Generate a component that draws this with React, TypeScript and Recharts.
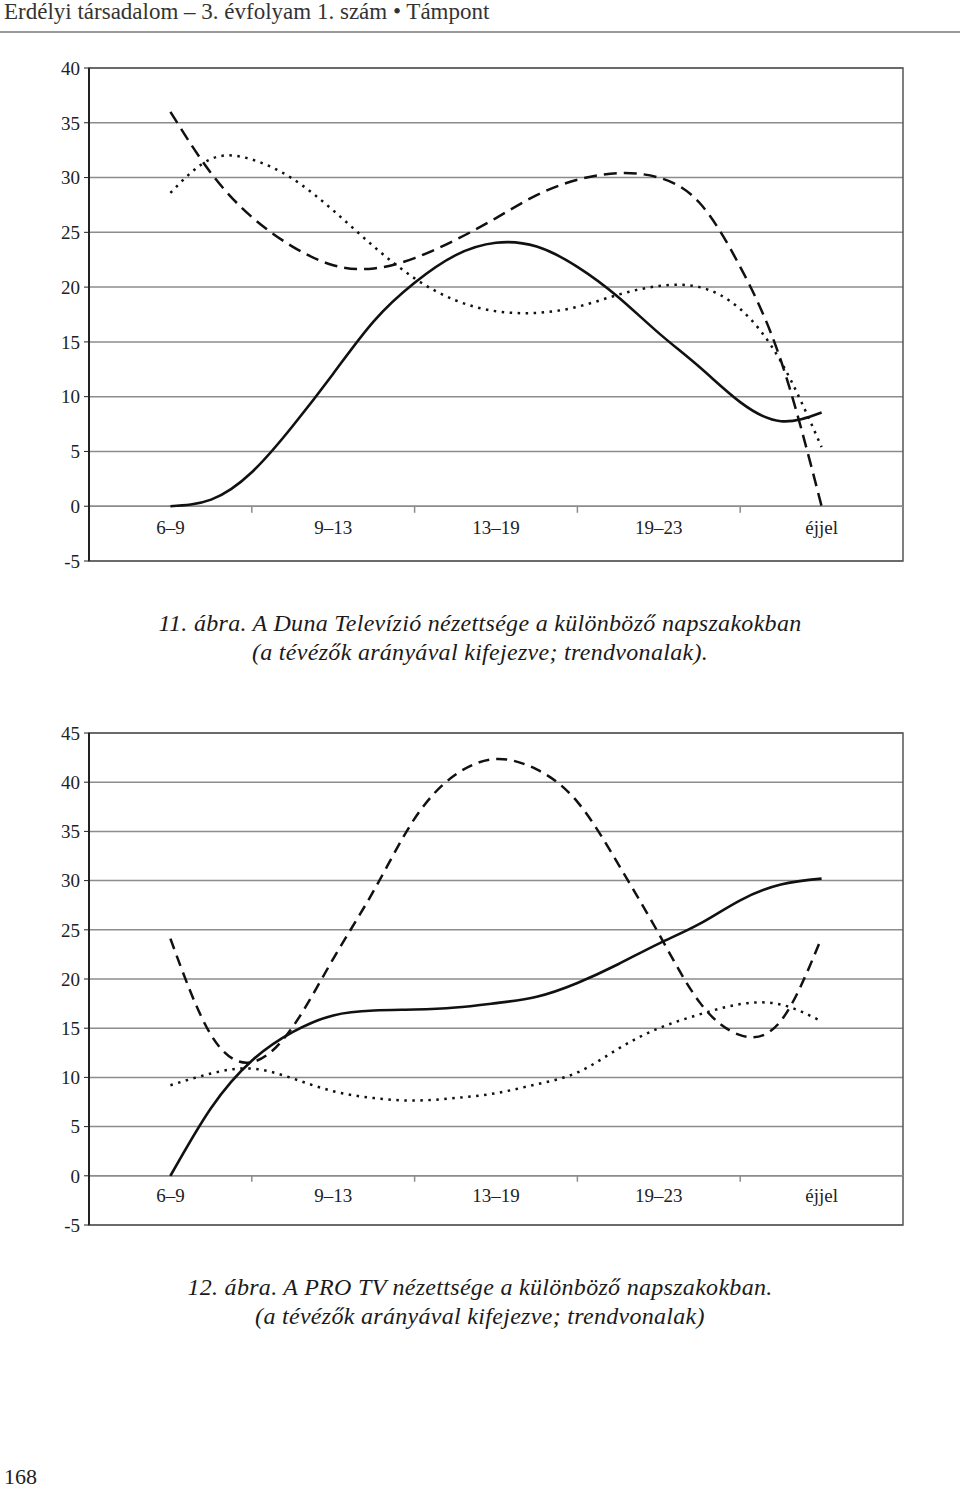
import {
  CartesianGrid, Line, LineChart, ReferenceArea, ReferenceDot, ReferenceLine, XAxis, YAxis,
} from "recharts";

const SERIF = "'Liberation Serif', 'DejaVu Serif', serif";
const INK = "#111";
const GRID = "#8c8c8c";

const CATEGORIES = ["6–9", "9–13", "13–19", "19–23", "éjjel"];

// trendlines every quarter of a category (0 = 6–9 … 4 = éjjel)
const SAMPLE_X = [0, 0.25, 0.5, 0.75, 1, 1.25, 1.5, 1.75, 2, 2.25, 2.5, 2.75, 3, 3.25, 3.5, 3.75, 4];

// 11. ábra – Duna Televízió
const DUNA_TICKS = [-5, 0, 5, 10, 15, 20, 25, 30, 35, 40];
const DUNA_SOLID = [0, 0.6, 3.1, 7.3, 12.1, 16.9, 20.4, 22.9, 24.05, 23.7, 21.85, 19.1, 15.8, 12.7, 9.5, 7.76, 8.55];
const DUNA_DASHED = [36, 30.4, 26.4, 23.7, 22, 21.7, 22.65, 24.3, 26.3, 28.4, 29.8, 30.4, 30, 27.7, 21.85, 13.3, 0];
const DUNA_DOTTED = [28.6, 31.7, 31.65, 29.9, 27, 23.7, 20.8, 18.8, 17.8, 17.65, 18.2, 19.3, 20.1, 20, 18, 13.2, 5.4];

// 12. ábra – PRO TV
const PRO_TICKS = [-5, 0, 5, 10, 15, 20, 25, 30, 35, 40, 45];
const PRO_SOLID = [0, 6.9, 11.7, 14.6, 16.3, 16.8, 16.9, 17.1, 17.55, 18.2, 19.6, 21.5, 23.6, 25.6, 28, 29.6, 30.2];
const PRO_DASHED = [24.1, 14.3, 11.55, 15.1, 22.05, 29, 36.3, 40.75, 42.35, 41.3, 38, 31.7, 24.6, 17.65, 14.3, 15.75, 24.2];
const PRO_DOTTED = [9.2, 10.4, 10.9, 9.9, 8.6, 7.9, 7.65, 7.9, 8.4, 9.3, 10.5, 12.9, 15, 16.4, 17.45, 17.4, 15.7];

interface TrendProps {
  solid: number[];
  dashed: number[];
  dotted: number[];
  ticks: number[];
  dash: string;
  top: number;
  bottom: number;
}

const tickFont = { fill: "#222", fontSize: 19, fontFamily: SERIF, style: { fontFamily: SERIF } };

function TrendChart({ solid, dashed, dotted, ticks, dash, top, bottom }: TrendProps) {
  const rows = SAMPLE_X.map((x, i) => ({ x, solid: solid[i], dashed: dashed[i], dotted: dotted[i] }));
  const lo = ticks[0];
  const hi = ticks[ticks.length - 1];
  const bounds = CATEGORIES.slice(1).map((_, i) => i + 0.5);
  return (
    <LineChart width={960} height={530} data={rows} margin={{ top, right: 57, left: 0, bottom }}>
      <CartesianGrid vertical={false} stroke={GRID} strokeWidth={1.5} />
      <XAxis type="number" dataKey="x" domain={[-0.5, 4.5]} hide />
      <YAxis
        domain={[lo, hi]}
        ticks={ticks}
        interval={0}
        width={89}
        tickSize={5}
        tickMargin={4}
        axisLine={{ stroke: "#222", strokeWidth: 2 }}
        tickLine={{ stroke: "#222" }}
        tick={tickFont}
      />
      <ReferenceArea x1={-0.5} x2={4.5} y1={lo} y2={hi} fill="none" stroke="#555" strokeWidth={1.5} fillOpacity={0} />
      <ReferenceLine y={0} stroke={GRID} strokeWidth={1.5} />
      {bounds.map((b) => (
        <ReferenceLine key={b} segment={[{ x: b, y: 0 }, { x: b, y: -0.6 }]} stroke={GRID} strokeWidth={1.5} />
      ))}
      {CATEGORIES.map((c, i) => (
        <ReferenceDot
          key={c}
          x={i}
          y={-1.95}
          r={0}
          fill="none"
          stroke="none"
          label={{ value: c, position: "center", ...tickFont }}
        />
      ))}
      <Line type="natural" dataKey="dotted" stroke={INK} strokeWidth={2.5} strokeDasharray="2.5 5.5" dot={false} isAnimationActive={false} />
      <Line type="natural" dataKey="dashed" stroke={INK} strokeWidth={2.5} strokeDasharray={dash} dot={false} isAnimationActive={false} />
      <Line type="natural" dataKey="solid" stroke={INK} strokeWidth={2.6} dot={false} isAnimationActive={false} />
    </LineChart>
  );
}

const caption: React.CSSProperties = {
  position: "absolute",
  left: 0,
  width: 960,
  textAlign: "center",
  fontStyle: "italic",
  fontSize: 24,
  letterSpacing: 0.3,
  lineHeight: "29px",
  color: "#1a1a1a",
};

export default function App() {
  return (
    <div style={{ position: "absolute", left: 0, top: 0, width: 960, height: 1488, background: "#fff", fontFamily: SERIF, overflow: "hidden" }}>
      <style>{`.recharts-text, .recharts-label { font-family: ${SERIF}; }`}</style>
      <div style={{ position: "absolute", left: 4, top: -2, fontSize: 23, lineHeight: "28px", color: "#333", whiteSpace: "nowrap" }}>
        Erdélyi társadalom – 3. évfolyam 1. szám • Támpont
      </div>
      <div style={{ position: "absolute", left: 0, top: 31, width: 960, height: 2, background: "#9a9a9a" }} />

      <div style={{ position: "absolute", left: 0, top: 50 }}>
        <TrendChart solid={DUNA_SOLID} dashed={DUNA_DASHED} dotted={DUNA_DOTTED} ticks={DUNA_TICKS} dash="13 7" top={18} bottom={19} />
      </div>
      <div style={{ ...caption, top: 609 }}>
        11. ábra. A Duna Televízió nézettsége a különböző napszakokban
        <br />
        (a tévézők arányával kifejezve; trendvonalak).
      </div>

      <div style={{ position: "absolute", left: 0, top: 715 }}>
        <TrendChart solid={PRO_SOLID} dashed={PRO_DASHED} dotted={PRO_DOTTED} ticks={PRO_TICKS} dash="11 7" top={18} bottom={20} />
      </div>
      <div style={{ ...caption, top: 1273 }}>
        12. ábra. A PRO TV nézettsége a különböző napszakokban.
        <br />
        (a tévézők arányával kifejezve; trendvonalak)
      </div>

      <div style={{ position: "absolute", left: 4, top: 1463, fontSize: 22, lineHeight: "28px", color: "#222" }}>168</div>
    </div>
  );
}
